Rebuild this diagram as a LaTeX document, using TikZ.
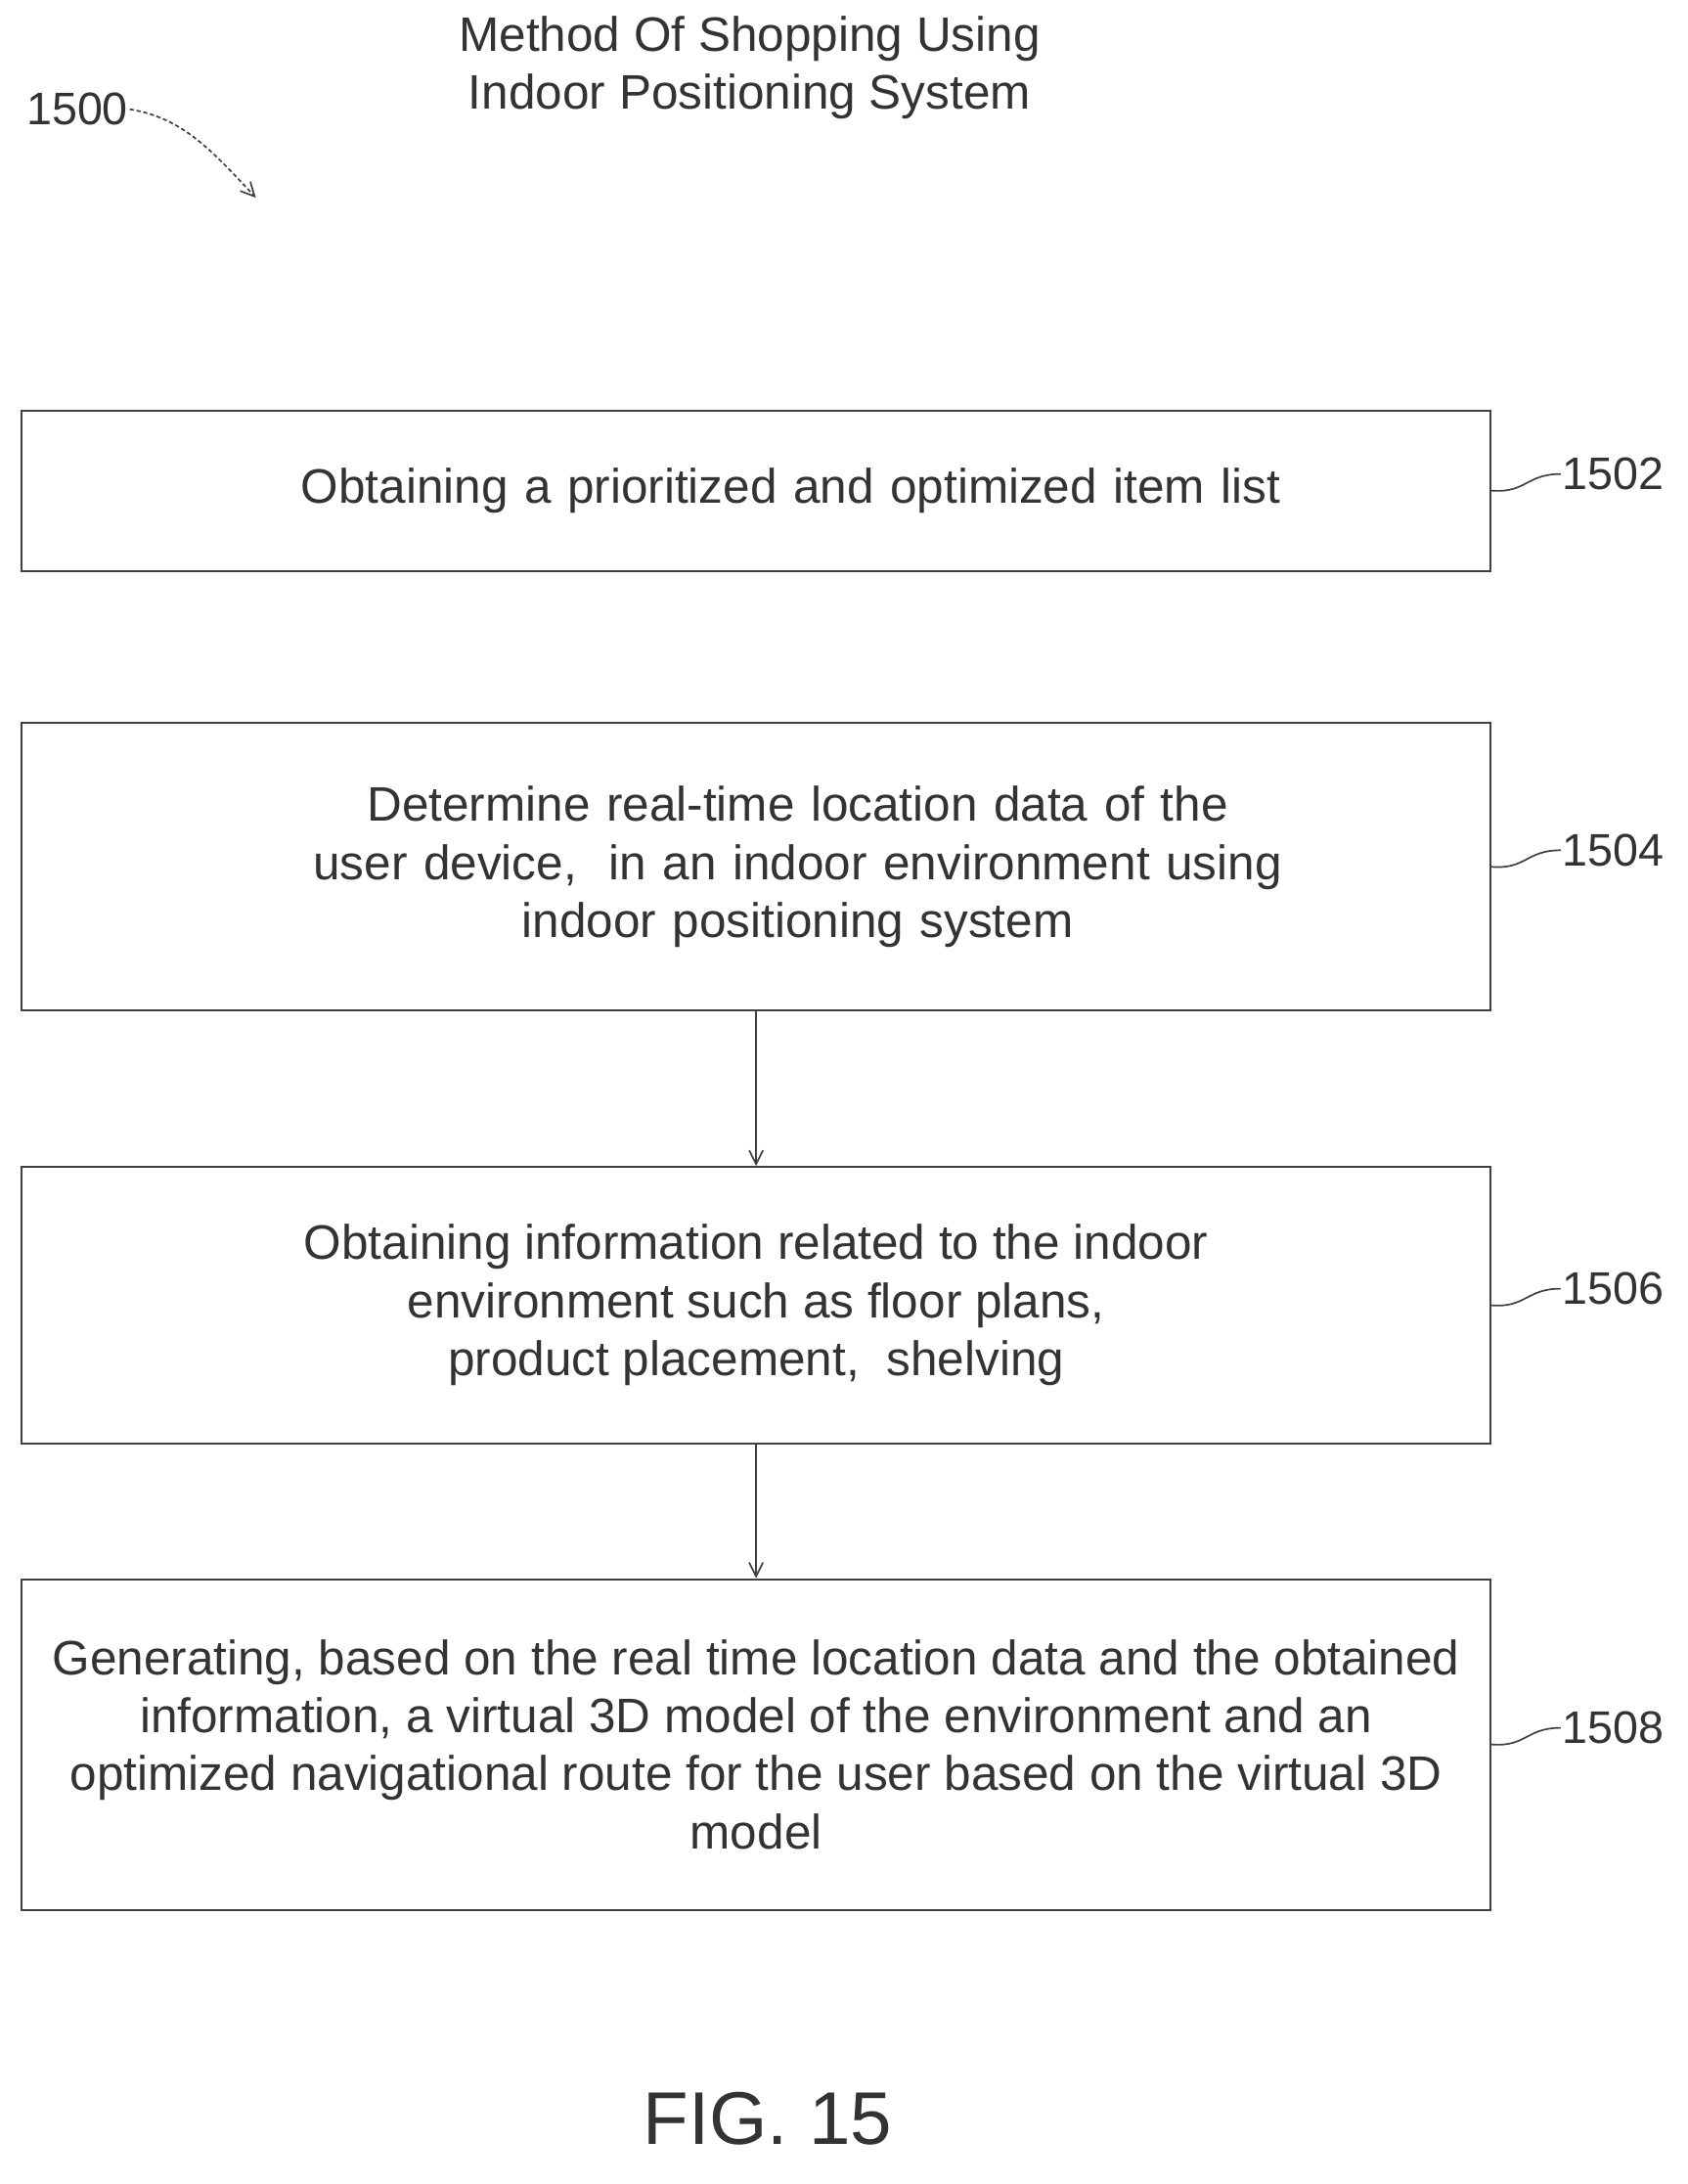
\documentclass[tikz,border=0pt]{standalone}
\usepackage{fontspec}
\setmainfont{Liberation Sans}
\usetikzlibrary{arrows.meta}
\begin{document}
\begin{tikzpicture}[x=1pt,y=-1pt,
  box/.style={draw=black!75,line width=1.4pt,minimum width=1062pt,anchor=north west,inner sep=0pt,align=center,font=\fontsize{35}{42}\selectfont,text=black!80},
  lbl/.style={font=\fontsize{33}{36}\selectfont,text=black!80,anchor=west,inner sep=1pt},
  lead/.style={draw=black!75,line width=1.2pt},
  arr/.style={draw=black!75,line width=1.2pt,-{Straight Barb[length=10pt,width=10pt]}}]
\useasboundingbox (0,0) rectangle (1220,1579);
\node[font=\fontsize{35}{42}\selectfont,text=black!80,align=center] (title) at (542,49) {Method Of Shopping Using\\ Indoor Positioning System};
\node[lbl] (l1500) at (18,79) {1500};
\coordinate (t1500) at (185,143);
\draw[arr,densely dashed] (l1500.east) .. controls (130,85) and (150,105) .. (t1500);
\node[box,minimum height=116pt,text width=1062pt] (b1) at (15,296) {\hspace*{50pt}Obtaining a prioritized and optimized item list};
\node[box,minimum height=208pt,text width=1062pt] (b2) at (15,522) {\hspace*{60pt}Determine real-time location data of the\\ \hspace*{60pt}user device,\ \ in an indoor environment using\\ \hspace*{60pt}indoor positioning system};
\node[box,minimum height=200pt] (b3) at (15,843) {Obtaining information related to the indoor\\ environment such as floor plans,\\ product placement,\ \ shelving};
\node[box,minimum height=239pt] (b4) at (15,1141) {Generating, based on the real time location data and the obtained\\ information, a virtual 3D model of the environment and an\\ optimized navigational route for the user based on the virtual 3D\\ model};
\draw[arr] (b2.south) -- (b3.north);
\draw[arr] (b3.south) -- (b4.north);
\foreach \b/\n in {b1/1502,b2/1504,b3/1506,b4/1508}{
  \node[lbl] (l\n) at ([xshift=50pt,yshift=12pt]\b.east) {\n};
  \draw[lead] ([xshift=0pt]\b.east) .. controls ([xshift=25pt,yshift=-2pt]\b.east) and ([xshift=25pt,yshift=12pt]\b.east) .. (l\n.west);
}
\node[font=\fontsize{54}{60}\selectfont,text=black!80] (fig) at (555,1532) {FIG. 15};
\end{tikzpicture}
\end{document}
